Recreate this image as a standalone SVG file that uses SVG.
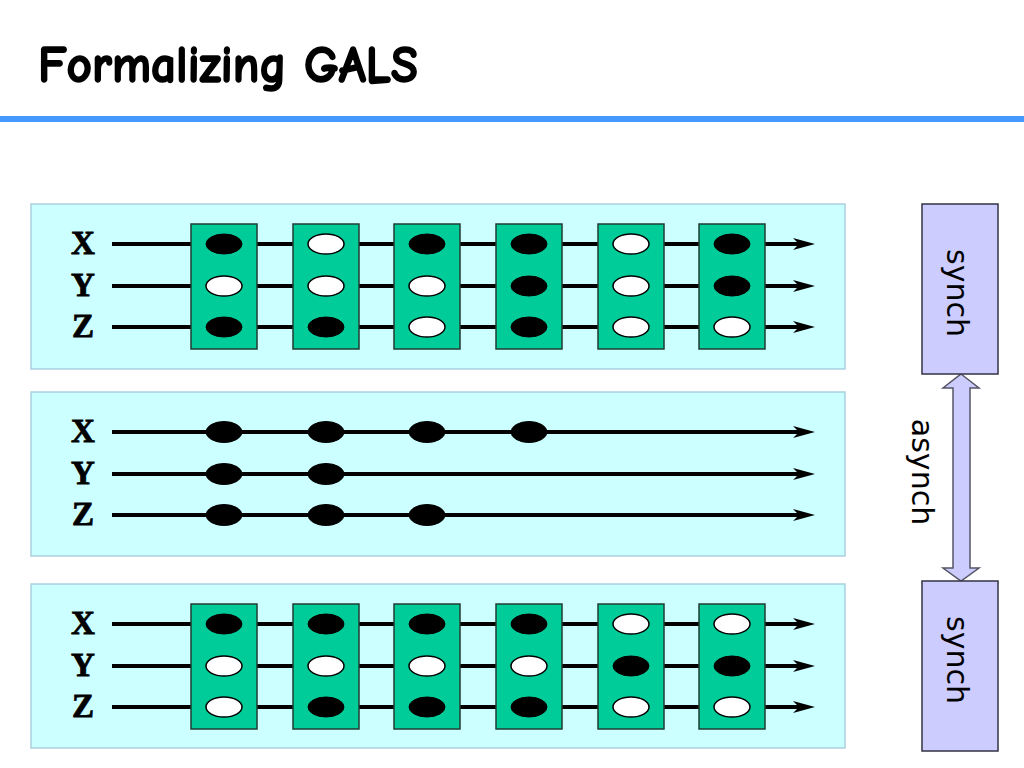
<svg xmlns="http://www.w3.org/2000/svg" width="1024" height="768" viewBox="0 0 1024 768">
<defs>
<style>
.panel{fill:#ccffff;stroke:#a9cfe0;stroke-width:1.5}
.box{fill:#00cc99;stroke:#1f3d33;stroke-width:1.5}
.b{fill:#000;stroke:#000;stroke-width:1}
.w{fill:#fff;stroke:#000;stroke-width:1.5}
.sig{stroke:#000;stroke-width:4;fill:none;marker-end:url(#ah)}
.lbl{font-family:"Liberation Serif","DejaVu Serif",serif;font-weight:bold;font-size:33px;fill:#000;stroke:#000;stroke-width:0.8;text-anchor:middle}
.sync{fill:#ccccff;stroke:#333344;stroke-width:1.5}
.vt{font-family:"DejaVu Sans","Open Sans",sans-serif;font-size:30px;fill:#000;text-anchor:middle}
</style>
<marker id="ah" markerUnits="userSpaceOnUse" viewBox="0 0 22 14" refX="6" refY="7" markerWidth="22" markerHeight="14" orient="auto">
<path d="M0,1 L22,7 L0,13 L6,7 Z" fill="#000"/>
</marker>
</defs>
<rect width="1024" height="768" fill="#fff"/>
<g id="title">
<text x="38" y="82" font-family="'Comic Neue','Liberation Sans',sans-serif" font-weight="bold" font-size="52" textLength="380" lengthAdjust="spacingAndGlyphs" fill="#000" stroke="#000" stroke-width="1.6">Formalizing GALS</text>
<rect x="0" y="116" width="1024" height="6" fill="#4499ff"/>
</g>

<g id="panel-sync-top">
<rect class="panel" x="31" y="204" width="814" height="165"/>
<text class="lbl" x="83" y="254">X</text>
<text class="lbl" x="83" y="296">Y</text>
<text class="lbl" x="83" y="337">Z</text>
</g>
<g id="panel-async">
<rect class="panel" x="31" y="392" width="814" height="164"/>
<text class="lbl" x="83" y="442">X</text>
<text class="lbl" x="83" y="484">Y</text>
<text class="lbl" x="83" y="525">Z</text>
</g>
<g id="panel-sync-bottom">
<rect class="panel" x="31" y="584" width="814" height="164"/>
<text class="lbl" x="83" y="634">X</text>
<text class="lbl" x="83" y="676">Y</text>
<text class="lbl" x="83" y="717">Z</text>
</g>

<g id="connectors">
<line class="sig" x1="112" y1="244" x2="799" y2="244"/>
<line class="sig" x1="112" y1="286" x2="799" y2="286"/>
<line class="sig" x1="112" y1="327" x2="799" y2="327"/>
<line class="sig" x1="112" y1="432" x2="799" y2="432"/>
<line class="sig" x1="112" y1="474" x2="799" y2="474"/>
<line class="sig" x1="112" y1="515" x2="799" y2="515"/>
<line class="sig" x1="112" y1="624" x2="799" y2="624"/>
<line class="sig" x1="112" y1="666" x2="799" y2="666"/>
<line class="sig" x1="112" y1="707" x2="799" y2="707"/>
<polygon id="async-arrow" points="961,374 979,388 970,388 970,568 979,568 961,581 943,568 953,568 953,388 943,388" fill="#ccccff" stroke="#555566" stroke-width="1.5"/>
</g>

<g id="top-instants">
<g id="t1"><rect class="box" x="191" y="224" width="66" height="125"/><ellipse class="b" cx="224" cy="244" rx="18" ry="10"/><ellipse class="w" cx="224" cy="286" rx="18" ry="10"/><ellipse class="b" cx="224" cy="327" rx="18" ry="10"/></g>
<g id="t2"><rect class="box" x="293" y="224" width="66" height="125"/><ellipse class="w" cx="326" cy="244" rx="18" ry="10"/><ellipse class="w" cx="326" cy="286" rx="18" ry="10"/><ellipse class="b" cx="326" cy="327" rx="18" ry="10"/></g>
<g id="t3"><rect class="box" x="394" y="224" width="66" height="125"/><ellipse class="b" cx="427" cy="244" rx="18" ry="10"/><ellipse class="w" cx="427" cy="286" rx="18" ry="10"/><ellipse class="w" cx="427" cy="327" rx="18" ry="10"/></g>
<g id="t4"><rect class="box" x="496" y="224" width="66" height="125"/><ellipse class="b" cx="529" cy="244" rx="18" ry="10"/><ellipse class="b" cx="529" cy="286" rx="18" ry="10"/><ellipse class="b" cx="529" cy="327" rx="18" ry="10"/></g>
<g id="t5"><rect class="box" x="598" y="224" width="66" height="125"/><ellipse class="w" cx="631" cy="244" rx="18" ry="10"/><ellipse class="w" cx="631" cy="286" rx="18" ry="10"/><ellipse class="w" cx="631" cy="327" rx="18" ry="10"/></g>
<g id="t6"><rect class="box" x="699" y="224" width="66" height="125"/><ellipse class="b" cx="732" cy="244" rx="18" ry="10"/><ellipse class="b" cx="732" cy="286" rx="18" ry="10"/><ellipse class="w" cx="732" cy="327" rx="18" ry="10"/></g>
</g>

<g id="async-events">
<ellipse class="b" cx="224" cy="432" rx="18" ry="10.5"/><ellipse class="b" cx="326" cy="432" rx="18" ry="10.5"/><ellipse class="b" cx="427" cy="432" rx="18" ry="10.5"/><ellipse class="b" cx="529" cy="432" rx="18" ry="10.5"/>
<ellipse class="b" cx="224" cy="474" rx="18" ry="10.5"/><ellipse class="b" cx="326" cy="474" rx="18" ry="10.5"/>
<ellipse class="b" cx="224" cy="515" rx="18" ry="10.5"/><ellipse class="b" cx="326" cy="515" rx="18" ry="10.5"/><ellipse class="b" cx="427" cy="515" rx="18" ry="10.5"/>
</g>

<g id="bottom-instants">
<g id="u1"><rect class="box" x="191" y="604" width="66" height="125"/><ellipse class="b" cx="224" cy="624" rx="18" ry="10"/><ellipse class="w" cx="224" cy="666" rx="18" ry="10"/><ellipse class="w" cx="224" cy="707" rx="18" ry="10"/></g>
<g id="u2"><rect class="box" x="293" y="604" width="66" height="125"/><ellipse class="b" cx="326" cy="624" rx="18" ry="10"/><ellipse class="w" cx="326" cy="666" rx="18" ry="10"/><ellipse class="b" cx="326" cy="707" rx="18" ry="10"/></g>
<g id="u3"><rect class="box" x="394" y="604" width="66" height="125"/><ellipse class="b" cx="427" cy="624" rx="18" ry="10"/><ellipse class="w" cx="427" cy="666" rx="18" ry="10"/><ellipse class="b" cx="427" cy="707" rx="18" ry="10"/></g>
<g id="u4"><rect class="box" x="496" y="604" width="66" height="125"/><ellipse class="b" cx="529" cy="624" rx="18" ry="10"/><ellipse class="w" cx="529" cy="666" rx="18" ry="10"/><ellipse class="b" cx="529" cy="707" rx="18" ry="10"/></g>
<g id="u5"><rect class="box" x="598" y="604" width="66" height="125"/><ellipse class="w" cx="631" cy="624" rx="18" ry="10"/><ellipse class="b" cx="631" cy="666" rx="18" ry="10"/><ellipse class="w" cx="631" cy="707" rx="18" ry="10"/></g>
<g id="u6"><rect class="box" x="699" y="604" width="66" height="125"/><ellipse class="w" cx="732" cy="624" rx="18" ry="10"/><ellipse class="b" cx="732" cy="666" rx="18" ry="10"/><ellipse class="w" cx="732" cy="707" rx="18" ry="10"/></g>
</g>

<g id="synch-top">
<rect class="sync" x="922" y="204" width="76" height="170"/>
<text class="vt" transform="translate(947,293) rotate(90)">synch</text>
</g>
<g id="asynch-label">
<text class="vt" transform="translate(912,472) rotate(90)">asynch</text>
</g>
<g id="synch-bottom">
<rect class="sync" x="922" y="581" width="76" height="170"/>
<text class="vt" transform="translate(947,660) rotate(90)">synch</text>
</g>
</svg>
